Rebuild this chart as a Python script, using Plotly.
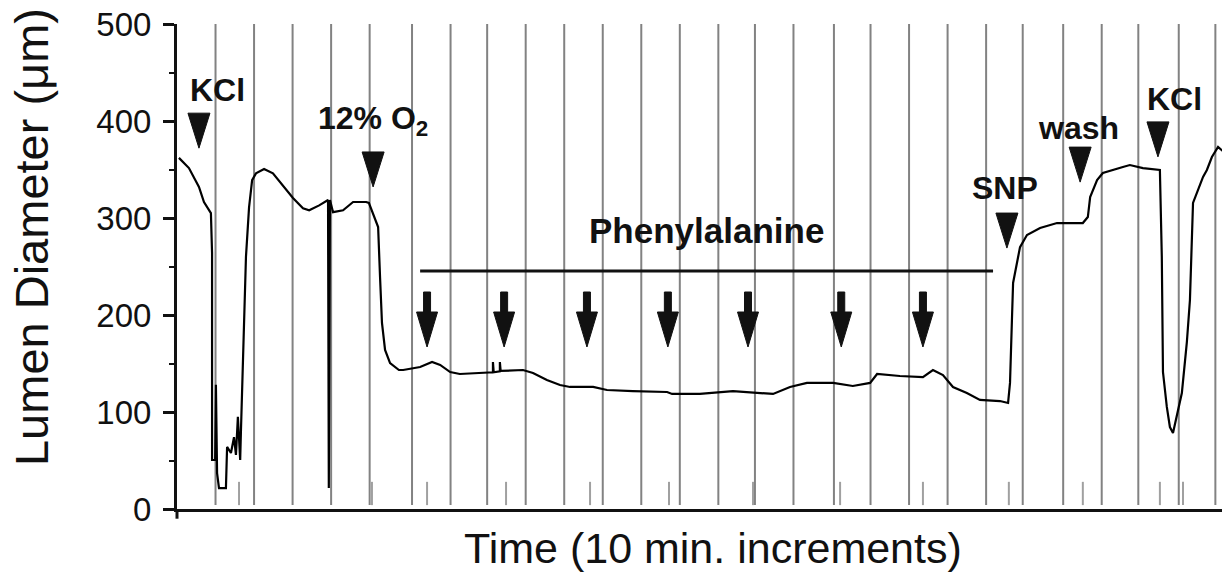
import plotly.graph_objects as go

# ---- recorded trace (time in minutes, lumen diameter in µm) ----
time_min = [0.5, 3.1, 5.7, 7.0, 8.8, 9.1, 9.1, 9.9, 10.1, 10.4, 10.9, 12.7, 13.0, 14.0, 14.8,
            15.3, 15.8, 16.4, 16.6, 17.1, 17.9, 18.7, 19.5, 20.5, 22.6, 24.9, 28.3, 30.1, 32.7,
            34.3, 36.9, 39.2, 39.4, 39.7, 40.5, 43.1, 45.7, 49.1, 49.8, 50.9, 52.2, 52.7, 53.2,
            54.0, 55.3, 57.6, 58.7, 63.1, 66.2, 68.3, 70.9, 73.4, 79.4, 82.0, 82.0, 82.2, 83.8,
            83.8, 84.0, 89.8, 92.4, 96.0, 99.4, 102.0, 108.0, 111.6, 118.3, 127.2, 128.5, 135.7,
            144.3, 154.7, 159.1, 163.5, 170.3, 175.4, 179.9, 181.7, 187.6, 193.6, 196.2, 198.8,
            201.4, 205.0, 208.4, 213.6, 215.7, 216.2, 216.7, 217.0, 218.0, 218.8, 220.6, 224.0,
            228.4, 235.1, 236.4, 237.0, 238.8, 240.3, 245.5, 247.3, 250.7, 255.1, 255.6, 255.9,
            256.9, 257.7, 258.5, 259.8, 260.8, 262.1, 262.9, 263.7, 265.0, 266.3, 267.3, 268.6,
            270.2, 272.0]
diameter_um = [362, 351.5, 332, 316.5, 305, 264, 50.5, 50.5, 128, 37, 21.6, 21.6, 64, 57.7, 74,
               55.7, 95, 50.5, 81, 150.5, 260, 311, 339, 346, 350.5, 346, 329, 320.6, 310,
               308, 313, 318.5, 21.6, 318.5, 306, 308, 316.5, 316.5, 315.5, 305, 290.7, 239, 191.8,
               164, 150.5, 143.3, 143.3, 146.4, 151.5, 148.5, 141.2, 139.2, 140.2, 141, 151.5, 141, 142,
               151.5, 142.3, 143.3, 140.2, 133, 127.8, 125.8, 125.8, 122.7, 121.6, 120.6, 118.6, 118.6,
               121.6, 118.6, 125.8, 130, 130, 126.8, 130, 139.2, 137.1, 136, 143.3, 138,
               125.8, 119.6, 112.4, 111.3, 109.3, 130, 194.8, 233, 253.6, 270, 282.5, 289.7,
               294.8, 294.8, 301, 321.6, 339.2, 346.4, 352.6, 354.6, 351.5, 349.5, 259.8, 141.2,
               105.2, 84.5, 78.4, 102, 119.6, 172, 215.5, 315.5, 328.9, 342.3, 349.5, 362.9,
               373.2, 367]

# ---- 10-minute chart-recorder marks ----
increment_marks = [10, 20, 30, 40, 50, 61, 71, 80.5, 90.5, 100.5, 110.5, 120.5, 130.5, 140.5,
                   150, 160, 170.5, 180, 190, 200, 210, 219.5, 230, 240, 249.5, 260, 269.5]

# ---- event marks (short grey ticks on the record) ----
event_ticks = [16.1, 50.6, 64.9, 85.4, 107.2, 127.7, 149.5, 172.1, 193.6, 215.9, 235.1, 255.1, 261.1]

# ---- treatments (triangles) ----
event_names = ["KCl", "12% O<sub>2</sub>", "SNP", "wash", "KCl"]
event_times = [5.7, 50.9, 215.4, 234.4, 254.6]
event_levels = [372, 332, 269, 337, 363]

# ---- phenylalanine doses (arrows) ----
phe_doses = [64.9, 84.9, 106.4, 127.4, 148.2, 172.4, 193.6]
phe_level = 167
phe_span = [63.1, 211.8]
phe_bar = 245.4

yticks = [0, 100, 200, 300, 400, 500]

FONT = "Liberation Sans, Arial, Helvetica, sans-serif"
INK = "#111111"

fig = go.Figure()

shapes = []
for t in increment_marks:
    shapes.append(dict(type="line", xref="x", yref="y", x0=t, x1=t, y0=4, y1=500,
                       line=dict(color="#828282", width=2), layer="below"))
for t in event_ticks:
    shapes.append(dict(type="line", xref="x", yref="y", x0=t, x1=t, y0=4, y1=28,
                       line=dict(color="#a0a0a0", width=2), layer="below"))

tri = "M -11,35 L 11,35 L 0,0 Z"
for t, lv in zip(event_times, event_levels):
    shapes.append(dict(type="path", xref="x", yref="y", xsizemode="pixel", ysizemode="pixel",
                       xanchor=t, yanchor=lv, path=tri, fillcolor=INK,
                       line=dict(color=INK, width=1)))

arrow = "M -3.5,55 L 3.5,55 L 3.5,35 L 10.5,35 L 0,0 L -10.5,35 L -3.5,35 Z"
for t in phe_doses:
    shapes.append(dict(type="path", xref="x", yref="y", xsizemode="pixel", ysizemode="pixel",
                       xanchor=t, yanchor=phe_level, path=arrow, fillcolor=INK,
                       line=dict(color=INK, width=1)))

shapes.append(dict(type="line", xref="x", yref="y", x0=phe_span[0], x1=phe_span[1],
                   y0=phe_bar, y1=phe_bar, line=dict(color=INK, width=3)))
# y-axis line runs slightly below the x-axis
shapes.append(dict(type="line", xref="paper", yref="paper", x0=0, x1=0, y0=-0.02, y1=0,
                   line=dict(color=INK, width=3)))

fig.add_trace(go.Scatter(x=time_min, y=diameter_um, mode="lines",
                         line=dict(color="#000000", width=2.2), hoverinfo="skip"))

label_offsets = [(19, 58), (0, 66), (-2, 60), (-2, 54), (17, 58)]
annotations = []
for name, t, lv, (dx, dy) in zip(event_names, event_times, event_levels, label_offsets):
    annotations.append(dict(x=t, y=lv, xref="x", yref="y", text="<b>%s</b>" % name,
                            showarrow=False, xshift=dx, yshift=dy,
                            xanchor="center", yanchor="middle",
                            font=dict(family=FONT, size=32, color=INK)))
annotations.append(dict(x=(phe_span[0] + phe_span[1]) / 2, y=phe_bar, xref="x", yref="y",
                        text="<b>Phenylalanine</b>", showarrow=False, yshift=40,
                        xanchor="center", yanchor="middle",
                        font=dict(family=FONT, size=35, color=INK)))
annotations.append(dict(x=-0.1393, y=0.5608, xref="paper", yref="paper",
                        text="Lumen Diameter (μm)", textangle=-90, showarrow=False,
                        xanchor="center", yanchor="middle",
                        font=dict(family=FONT, size=47, color=INK)))
annotations.append(dict(x=0.5115, y=-0.0804, xref="paper", yref="paper",
                        text="Time (10 min. increments)", showarrow=False,
                        xanchor="center", yanchor="middle",
                        font=dict(family=FONT, size=43, color=INK)))

# the page body adds an 8px margin, so the figure is sized to fit the 1230x575 window
fig.update_layout(
    width=1222, height=567,
    margin=dict(l=169, r=5, t=16, b=66, autoexpand=False),
    plot_bgcolor="white", paper_bgcolor="white",
    showlegend=False,
    shapes=shapes, annotations=annotations,
    xaxis=dict(range=[0, 272], showline=True, linewidth=3, linecolor=INK, automargin=False,
               showticklabels=False, ticks="", showgrid=False, zeroline=False),
    yaxis=dict(range=[0, 500], tickvals=yticks, ticks="outside", ticklen=11, tickwidth=3,
               tickcolor=INK, showline=True, linewidth=3, linecolor=INK, automargin=False,
               ticklabeloverflow="allow", ticklabelstandoff=5,
               tickfont=dict(family=FONT, size=33, color=INK),
               showgrid=False, zeroline=False,
               minor=dict(dtick=50, tick0=0, ticks="outside", ticklen=5, tickwidth=2,
                          tickcolor=INK, showgrid=False)),
)

fig.write_html("out.html")
